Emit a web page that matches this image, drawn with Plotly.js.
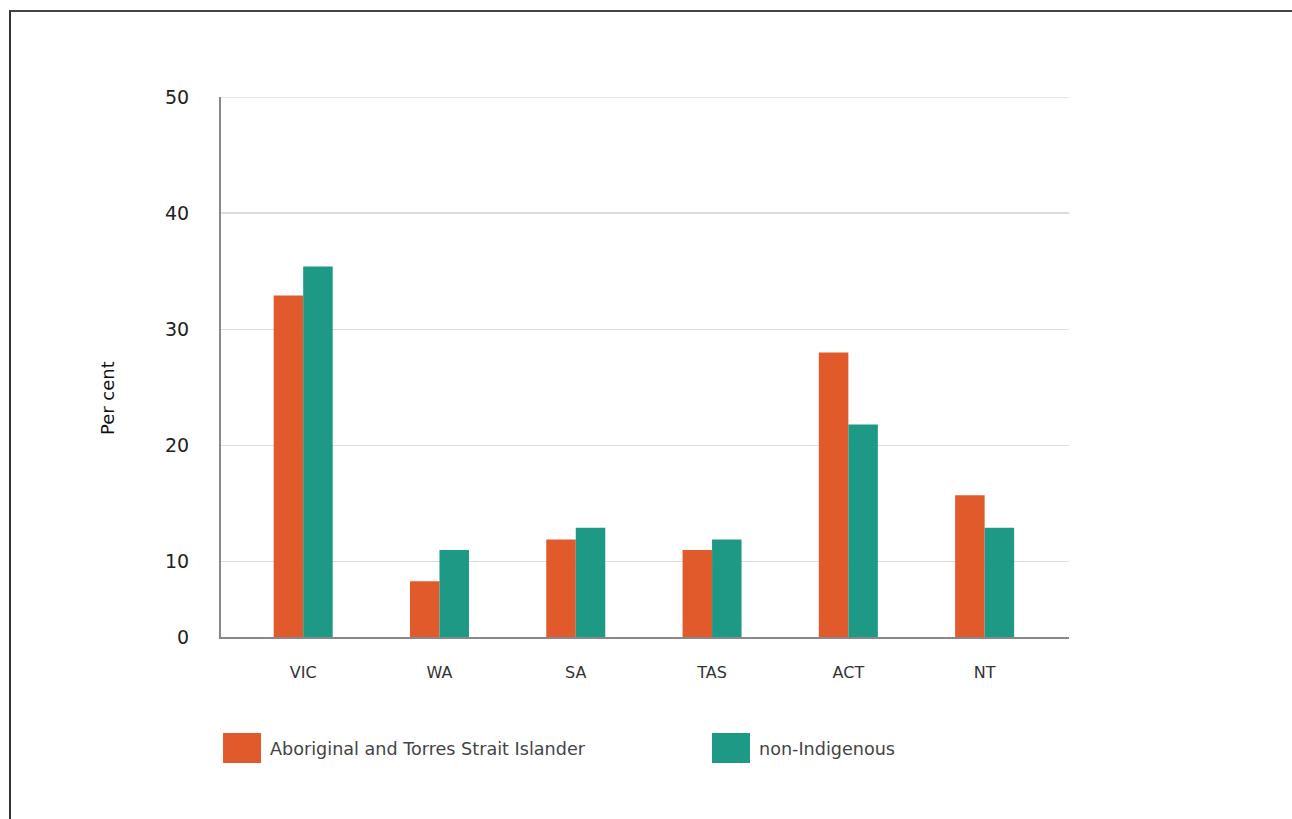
<!DOCTYPE html>
<html>
<head>
<meta charset="utf-8">
<script src="https://cdn.plot.ly/plotly-3.0.1.min.js"></script>
<style>
html,body{margin:0;padding:0;background:#fff;}
#frame{position:absolute;left:9px;top:10px;width:1290px;height:820px;border-left:2px solid #333;border-top:2px solid #444;border-right:1px solid #666;box-sizing:border-box;pointer-events:none;z-index:2;}
#chart{position:absolute;left:0;top:0;width:1292px;height:819px;}
</style>
</head>
<body>
<div id="chart"></div>
<div id="frame"></div>
<script>
const categories = ['VIC', 'WA', 'SA', 'TAS', 'ACT', 'NT'];
const seriesNames = ['Aboriginal and Torres Strait Islander', 'non-Indigenous'];
const indigenous = [32.9, 8.3, 11.9, 11.0, 28.0, 15.7];
const nonIndigenous = [35.4, 11.0, 12.9, 11.9, 21.8, 12.9];
const tickVals = [3.5, 10, 20, 30, 40, 50];
const tickText = ['0', '10', '20', '30', '40', '50'];
const yTitle = 'Per cent';
const colors = ['#E05A2B', '#1E9985'];

const font = '"DejaVu Sans", sans-serif';
const baseVal = 3.5; // baseline of the original chart, labelled 0

const traces = [
  {type: 'bar', x: categories, y: indigenous.map(v => v - baseVal), base: baseVal, name: seriesNames[0], marker: {color: colors[0]}, showlegend: false},
  {type: 'bar', x: categories, y: nonIndigenous.map(v => v - baseVal), base: baseVal, name: seriesNames[1], marker: {color: colors[1]}, showlegend: false}
];

const legendX = [[0.0024, 0.0472, 0.0552], [0.579, 0.6238, 0.6320]];
const shapes = [
  {type: 'line', xref: 'paper', yref: 'y', x0: 0, x1: 1, y0: 50, y1: 50, line: {color: '#dcdcdc', width: 1.5}}
];
const annotations = [
  {xref: 'paper', yref: 'paper', x: -0.1344, y: 0.4425, xanchor: 'center', yanchor: 'middle', textangle: -90, text: yTitle, showarrow: false, font: {family: font, size: 18, color: '#111'}}
];
seriesNames.forEach((n, i) => {
  shapes.push({type: 'rect', xref: 'paper', yref: 'paper', x0: legendX[i][0], x1: legendX[i][1], y0: -0.1778, y1: -0.2333, fillcolor: colors[i], line: {width: 0}});
  annotations.push({xref: 'paper', yref: 'paper', x: legendX[i][2], y: -0.2074, xanchor: 'left', yanchor: 'middle', text: n, showarrow: false, font: {family: font, size: 17.6, color: '#444'}});
});

const layout = {
  width: 1292, height: 819,
  margin: {l: 221, r: 223, t: 97, b: 182},
  paper_bgcolor: '#fff', plot_bgcolor: '#fff',
  barmode: 'group', bargap: 0.567, bargroupgap: 0,
  showlegend: false,
  xaxis: {
    range: [-0.603, 5.619], showgrid: false, zeroline: false,
    ticks: '', ticklabelstandoff: 20,
    tickfont: {family: font, size: 16, color: '#333'},
    showline: true, linecolor: '#888', linewidth: 2
  },
  yaxis: {
    range: [baseVal, 50], tickvals: tickVals, ticktext: tickText,
    showgrid: true, gridcolor: '#dcdcdc', gridwidth: 1.5, zeroline: false,
    showline: true, linecolor: '#888', linewidth: 2,
    ticks: '', ticklabelstandoff: 26,
    tickfont: {family: font, size: 19, color: '#222'}
  },
  shapes: shapes,
  annotations: annotations
};

Plotly.newPlot('chart', traces, layout, {displayModeBar: false, staticPlot: true});
</script>
</body>
</html>
